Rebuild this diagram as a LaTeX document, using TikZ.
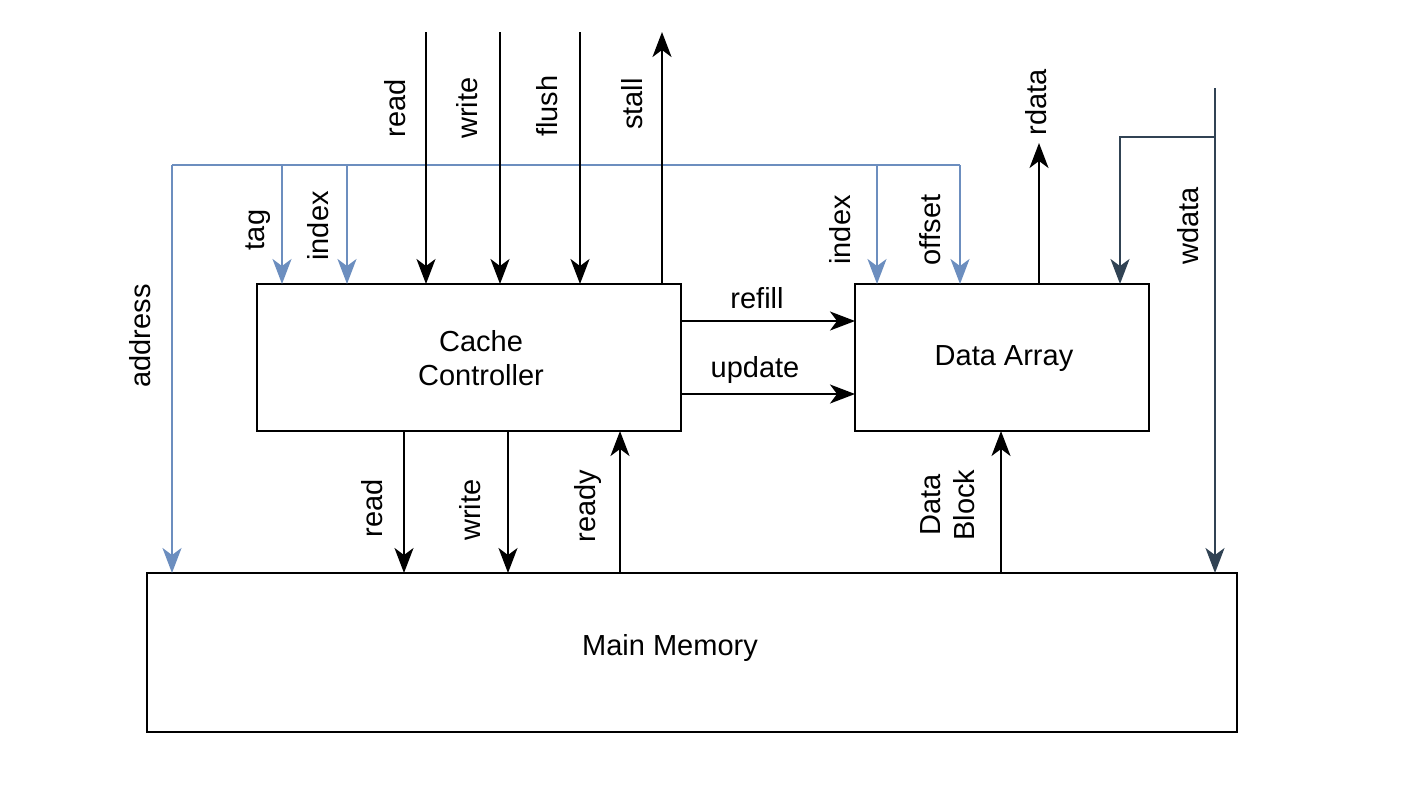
\documentclass[tikz,border=0pt]{standalone}
\usepackage{fontspec}
\setmainfont{Liberation Sans}
\usetikzlibrary{arrows.meta}
\definecolor{bl}{HTML}{6C8EBF}
\definecolor{dk}{HTML}{314354}
\begin{document}
\begin{tikzpicture}[x=1pt,y=-1pt,
  box/.style={draw,line width=2pt,inner sep=0pt},
  ln/.style={line width=2pt},
  ar/.style={ln,-{Stealth[length=25pt,width=19pt,inset=7pt]}},
  lbl/.style={font=\fontsize{29}{34}\selectfont,inner sep=0pt},
  vl/.style={lbl,rotate=90}]
\useasboundingbox (0,0) rectangle (1410,804);
\draw[box] (257,284) rectangle (681,431);
\node[lbl,align=center] (cc) at (481,358) {Cache\\Controller};
\draw[box] (855,284) rectangle (1149,431);
\node[lbl] (da) at (1004,359) {Data Array};
\draw[box] (147,573) rectangle (1237,732);
\node[lbl] (mm) at (670,648) {Main Memory};
% blue address bus
\coordinate (aL) at (172,165); \coordinate (aR) at (960,165);
\draw[ln,bl] (aL) -- (aR);
\draw[ar,bl] (aL) -- (172,573);
\draw[ar,bl] (282,165) -- (282,284);
\draw[ar,bl] (347,165) -- (347,284);
\draw[ar,bl] (877,165) -- (877,284);
\draw[ar,bl] (aR) -- (960,284);
% top control
\draw[ar] (426,32) -- (426,284);
\draw[ar] (500,32) -- (500,284);
\draw[ar] (580,32) -- (580,284);
\draw[ar] (662,284) -- (662,32);
\draw[ar] (1039,284) -- (1039,143);
\coordinate (wt) at (1215,88); \coordinate (wb) at (1215,137);
\draw[ar,dk] (wt) -- (1215,573);
\draw[ar,dk] (wb) -- (1120,137) -- (1120,284);
% cc to da
\draw[ar] (681,321) -- (855,321);
\draw[ar] (681,394) -- (855,394);
% cc to mem
\draw[ar] (404,431) -- (404,573);
\draw[ar] (508,431) -- (508,573);
\draw[ar] (620,573) -- (620,431);
\draw[ar] (1001,573) -- (1001,431);
% labels
\node[vl] (l1) at (395,108) {read};
\node[vl] (l2) at (467,108) {write};
\node[vl] (l3) at (547,106) {flush};
\node[vl] (l4) at (632,104) {stall};
\node[vl] (l5) at (258,230) {tag};
\node[vl] (l6) at (318,226) {index};
\node[vl] (l7) at (140,336) {address};
\node[vl] (l8) at (840,230) {index};
\node[vl] (l9) at (930,230) {offset};
\node[vl] (l10) at (1036,102) {rdata};
\node[vl] (l11) at (1188,226) {wdata};
\node[vl] (l12) at (372,508) {read};
\node[vl] (l13) at (470,510) {write};
\node[vl] (l14) at (588,506) {ready};
\node[vl,align=center] (l15) at (948,505) {Data\\Block};
\node[lbl] (l16) at (757,298) {refill};
\node[lbl] (l17) at (755,370) {update};
\end{tikzpicture}
\end{document}
